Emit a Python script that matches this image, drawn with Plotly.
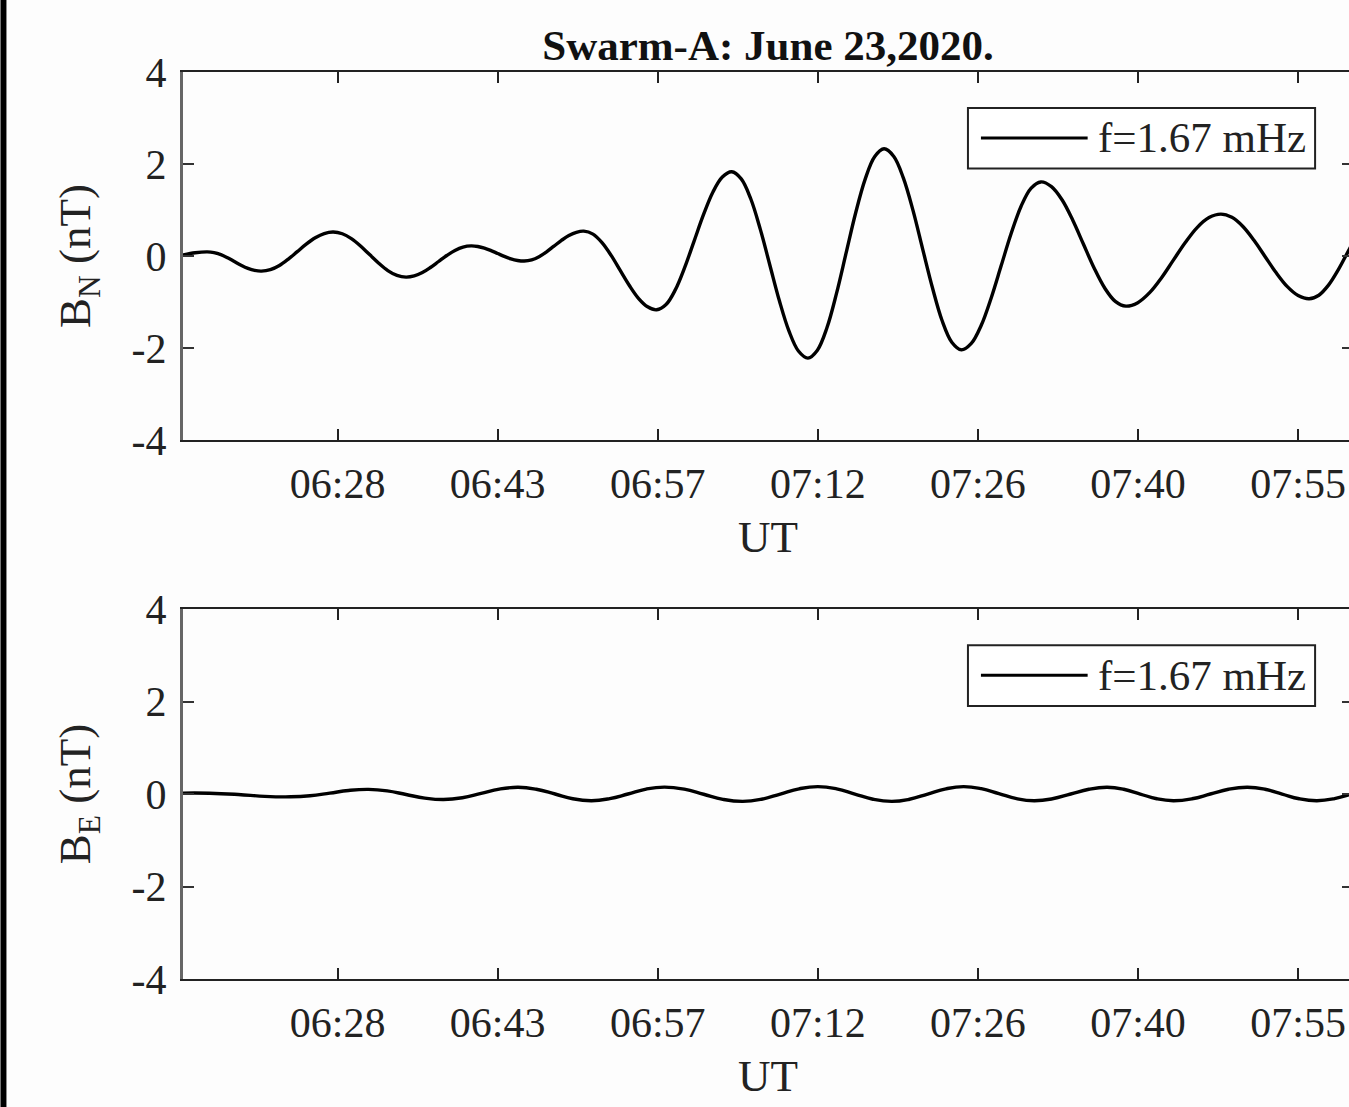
import plotly.graph_objects as go

# ---- data (time in minutes after 06:00 UT, field in nT) ----
bn_time = [14.0, 15.1, 16.2,
           16.81, 17.43, 18.04, 18.65, 19.26, 19.88, 20.49, 21.1,
           21.91, 22.73, 23.54, 24.35, 25.16, 25.98, 26.79, 27.6,
           28.43, 29.25, 30.08, 30.9, 31.73, 32.55, 33.38, 34.2,
           34.94, 35.68, 36.41, 37.15, 37.89, 38.63, 39.36, 40.1,
           40.7, 41.3, 41.9, 42.5, 43.1, 43.7, 44.3, 44.9,
           45.58, 46.25, 46.93, 47.6, 48.28, 48.95, 49.63, 50.3,
           51.13, 51.95, 52.78, 53.6, 54.43, 55.25, 56.08, 56.9,
           57.75, 58.6, 59.45, 60.3, 61.15, 62.0, 62.85, 63.7,
           64.56, 65.43, 66.29, 67.15, 68.01, 68.88, 69.74, 70.6,
           71.46, 72.33, 73.19, 74.05, 74.91, 75.78, 76.64, 77.5,
           78.38, 79.25, 80.13, 81.0, 81.88, 82.75, 83.63, 84.5,
           85.4, 86.3, 87.2, 88.1, 89.0, 89.9, 90.8, 91.7,
           92.66, 93.63, 94.59, 95.55, 96.51, 97.48, 98.44, 99.4,
           100.48, 101.55, 102.63, 103.7, 104.78, 105.85, 106.93, 108.0,
           109.0, 110.0, 111.0, 112.0, 113.0, 114.0, 115.0, 116.0,
           116.88, 117.75, 118.63, 119.5, 120.38]
bn_vals = [0.02, 0.07, 0.09,
           0.074, 0.029, -0.04, -0.12, -0.20, -0.269, -0.314, -0.33,
           -0.298, -0.206, -0.067, 0.095, 0.257, 0.396, 0.488, 0.52,
           0.483, 0.377, 0.217, 0.03, -0.157, -0.317, -0.423, -0.46,
           -0.434, -0.361, -0.25, -0.12, 0.01, 0.121, 0.194, 0.22,
           0.207, 0.172, 0.118, 0.055, -0.008, -0.062, -0.097, -0.11,
           -0.085, -0.015, 0.091, 0.215, 0.339, 0.445, 0.515, 0.54,
           0.475, 0.29, 0.012, -0.315, -0.642, -0.92, -1.105, -1.17,
           -1.056, -0.732, -0.243, 0.33, 0.903, 1.392, 1.716, 1.83,
           1.676, 1.239, 0.579, -0.195, -0.969, -1.629, -2.066, -2.22,
           -2.047, -1.556, -0.814, 0.055, 0.924, 1.666, 2.157, 2.33,
           2.164, 1.692, 0.98, 0.145, -0.69, -1.402, -1.874, -2.04,
           -1.901, -1.507, -0.912, -0.215, 0.482, 1.077, 1.471, 1.61,
           1.507, 1.216, 0.776, 0.26, -0.256, -0.696, -0.987, -1.09,
           -1.014, -0.798, -0.472, -0.09, 0.292, 0.618, 0.834, 0.91,
           0.84, 0.641, 0.341, -0.01, -0.361, -0.661, -0.86, -0.93,
           -0.853, -0.634, -0.303, 0.085, 0.473]

be_time = [14.0, 16.4, 19.0, 21.4, 23.75, 25.5, 27.3, 29.0, 30.8, 32.5, 34.2, 35.9, 37.6, 39.3,
           41.0, 42.65, 44.35, 46.0, 47.7, 49.3, 51.0, 52.65, 54.3, 55.95, 57.6, 59.4, 61.15,
           62.9, 64.7, 66.4, 68.1, 69.8, 71.5, 73.2, 74.85, 76.5, 78.2, 79.8, 81.45, 83.1, 84.7,
           86.3, 87.9, 89.5, 91.1, 92.75, 94.4, 96.05, 97.7, 99.2, 100.7, 102.2, 103.7, 105.4,
           107.05, 108.7, 110.4, 112.0, 113.55, 115.1, 116.7, 118.3, 119.85, 121.4]
be_vals = [0.02, 0.018, -0.01, -0.05, -0.06, -0.037, 0.02, 0.077, 0.10, 0.068, -0.01, -0.088, -0.12,
           -0.081, 0.0125, 0.106, 0.145, 0.103, 0.0, -0.103, -0.145, -0.10, 0.0, 0.107, 0.15, 0.105,
           -0.005, -0.115, -0.16, -0.113, 0.0, 0.113, 0.16, 0.113, 0.0, -0.113, -0.16, -0.113, 0.0,
           0.113, 0.16, 0.115, 0.008, -0.10, -0.145, -0.103, 0.0, 0.103, 0.145, 0.103, 0.0, -0.103,
           -0.145, -0.103, 0.0, 0.103, 0.145, 0.103, 0.0, -0.103, -0.145, -0.10, 0.0, 0.10]

x_tick_vals = [28.0, 42.5, 57.0, 71.5, 86.0, 100.5, 115.0]
x_tick_text = ["06:28", "06:43", "06:57", "07:12", "07:26", "07:40", "07:55"]
y_tick_vals = [-4, -2, 0, 2, 4]
y_tick_text = ["-4", "-2", "0", "2", "4"]
legend_label = "f=1.67 mHz"
title_text = "Swarm-A: June 23,2020."

FONT = "Liberation Serif, Times New Roman, serif"
FS = 42
FT = 45
BG = "#fdfdfd"

fig = go.Figure()
fig.add_trace(go.Scatter(x=bn_time, y=bn_vals, mode="lines", name=legend_label,
                         line=dict(color="black", width=3.4, shape="spline", smoothing=1.0),
                         xaxis="x", yaxis="y", showlegend=False))
fig.add_trace(go.Scatter(x=be_time, y=be_vals, mode="lines", name=legend_label,
                         line=dict(color="black", width=3.4, shape="spline", smoothing=1.3),
                         xaxis="x2", yaxis="y2", showlegend=False))

xcommon = dict(range=[14.0, 119.97], tickmode="array", tickvals=x_tick_vals, ticktext=x_tick_text,
               ticks="inside", ticklen=11, tickwidth=2, tickcolor="#222",
               showline=True, linecolor="#222", linewidth=2, mirror="ticks",
               showgrid=False, zeroline=False, ticklabelstandoff=6,
               tickfont=dict(family=FONT, size=FS, color="#222"),
               title=dict(text="UT", font=dict(family=FONT, size=FT, color="#222"), standoff=14))
ycommon = dict(range=[-4, 4], tickmode="array", tickvals=y_tick_vals, ticktext=y_tick_text,
               ticks="inside", ticklen=11, tickwidth=2, tickcolor="#333",
               showline=True, linecolor="#666", linewidth=3, mirror="ticks",
               showgrid=False, zeroline=False, ticklabelstandoff=5,
               tickfont=dict(family=FONT, size=FS, color="#222"))

fig.update_layout(
    width=1356, height=1107,
    margin=dict(l=183, r=0, t=72, b=128),
    paper_bgcolor=BG, plot_bgcolor=BG,
    font=dict(family=FONT, size=FS, color="#222"),
    showlegend=False,
    title=dict(text="<b>" + title_text + "</b>", x=0.5, xref="paper", xanchor="center",
               y=1 - 45 / 1107, yref="container", yanchor="middle",
               font=dict(family=FONT, size=43, color="#111")),
    xaxis=dict(domain=[0, 1], anchor="y", **xcommon),
    yaxis=dict(domain=[0.5943, 1], anchor="x",
               title=dict(text="B<sub>N</sub> (nT)", font=dict(family=FONT, size=FT, color="#222"), standoff=27),
               **ycommon),
    xaxis2=dict(domain=[0, 1], anchor="y2", **xcommon),
    yaxis2=dict(domain=[0, 0.4079], anchor="x2",
                title=dict(text="B<sub>E</sub> (nT)", font=dict(family=FONT, size=FT, color="#222"), standoff=27),
                **ycommon),
)

# legend boxes drawn in each panel
for xr, yr in (("x domain", "y domain"), ("x2 domain", "y2 domain")):
    fig.add_shape(type="rect", xref=xr, yref=yr, x0=0.6709, x1=0.9676, y0=0.738, y1=0.902,
                  line=dict(color="#222", width=2), fillcolor="white", layer="above")
    fig.add_shape(type="line", xref=xr, yref=yr, x0=0.6820, x1=0.7732, y0=0.8207, y1=0.8207,
                  line=dict(color="black", width=3), layer="above")
    fig.add_annotation(xref=xr, yref=yr, x=0.7801, y=0.8207, xanchor="left", yanchor="middle",
                       text=legend_label, showarrow=False,
                       font=dict(family=FONT, size=43, color="#222"))

# black strip at the left page edge
fig.add_shape(type="rect", xref="paper", yref="paper", x0=-183 / 1173, x1=-177 / 1173,
              y0=-128 / 907, y1=1 + 72 / 907, line=dict(width=0), fillcolor="black", layer="above")

fig.write_html("out.html", config={"displayModeBar": False},
               post_script="document.body.style.margin='0';document.body.style.overflow='hidden';")
